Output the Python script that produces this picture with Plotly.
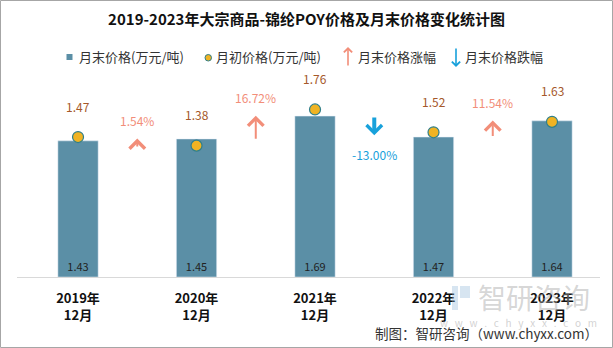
import plotly.graph_objects as go

categories = ["2019年<br>12月", "2020年<br>12月", "2021年<br>12月", "2022年<br>12月", "2023年<br>12月"]
end_price = [1.43, 1.45, 1.69, 1.47, 1.64]
start_price = [1.47, 1.38, 1.76, 1.52, 1.63]
change_pct = [None, 1.54, 16.72, -13.00, 11.54]
legend_names = ["月末价格(万元/吨)", "月初价格(万元/吨)", "月末价格涨幅", "月末价格跌幅"]

W, H = 613, 348
ML, MR, MT, MB = 17, 13, 70, 71
PW, PH = W - ML - MR, H - MT - MB

BAR = "#5B8FA6"
DOT = "#F0B323"
DOT_LINE = "#2E7F8C"
UP = "#F28E79"
DOWN = "#18A1DB"
FONT = "Noto Sans CJK SC"


def px(x):
    return (x - ML) / PW


def py(y):
    return (H - MB - y) / PH


xs = list(range(len(categories)))
fig = go.Figure()
fig.add_trace(go.Bar(
    x=xs, y=end_price, width=0.34, marker_color=BAR, name=legend_names[0],
    text=[f"{v:.2f}" for v in end_price], textposition="inside", insidetextanchor="start",
    textfont=dict(color="#222222", size=11, family=FONT),
))
fig.add_trace(go.Scatter(
    x=xs, y=start_price, mode="markers", name=legend_names[1],
    marker=dict(color=DOT, size=11, line=dict(color=DOT_LINE, width=1.2)),
))

anns = []
for i, v in enumerate(start_price):
    anns.append(dict(x=xs[i], y=v, text=f"{v:.2f}", showarrow=False, yshift=31,
                     font=dict(color="#A5582A", size=12, family=FONT)))

for i in range(1, len(categories)):
    pct = change_pct[i]
    curr = end_price[i]
    xm = (xs[i - 1] + xs[i]) / 2
    length = max(abs(pct) * 0.0155, 0.1)
    if pct >= 0:
        head = curr + 0.005
        anns.append(dict(x=xm, y=head, ax=xm, ay=head - length, xref="x", yref="y", axref="x", ayref="y",
                         showarrow=True, arrowhead=4, arrowsize=1.5, arrowwidth=2, arrowcolor=UP,
                         standoff=0, text=""))
        anns.append(dict(x=xm, y=head, text=f"{pct:.2f}%", showarrow=False, yshift=18,
                         font=dict(color=UP, size=12, family=FONT)))
    else:
        head = curr + 0.02
        anns.append(dict(x=xm, y=head, ax=xm, ay=head + length, xref="x", yref="y", axref="x", ayref="y",
                         showarrow=True, arrowhead=4, arrowsize=0.75, arrowwidth=4, arrowcolor=DOWN,
                         standoff=0, text=""))
        anns.append(dict(x=xm, y=head, text=f"{pct:.2f}%", showarrow=False, yshift=-19,
                         font=dict(color=DOWN, size=12, family=FONT)))

# custom legend
shapes = []
shapes.append(dict(type="rect", xref="paper", yref="paper", x0=px(66.5), x1=px(72.5), y0=py(60), y1=py(54),
                   fillcolor=BAR, line=dict(width=0)))
shapes.append(dict(type="circle", xref="paper", yref="paper", x0=px(205), x1=px(211.5), y0=py(61), y1=py(54.5),
                   fillcolor=DOT, line=dict(color=DOT_LINE, width=1)))
anns.append(dict(xref="paper", yref="paper", x=px(348), y=py(47), ax=0, ay=20, showarrow=True,
                 arrowhead=4, arrowsize=1.0, arrowwidth=1.6, arrowcolor=UP, standoff=0, text=""))
anns.append(dict(xref="paper", yref="paper", x=px(456), y=py(67), ax=0, ay=-20, showarrow=True,
                 arrowhead=4, arrowsize=1.0, arrowwidth=1.6, arrowcolor=DOWN, standoff=0, text=""))
for name, xl in zip(legend_names, [77, 214, 356, 463]):
    anns.append(dict(xref="paper", yref="paper", x=px(xl), y=py(57), xanchor="left", yanchor="middle",
                     text=name, showarrow=False, font=dict(size=13, color="#333333", family=FONT)))

# watermark and source
anns.append(dict(xref="paper", yref="paper", x=px(534), y=py(297), xanchor="center", yanchor="middle",
                 text="智研咨询", showarrow=False, font=dict(size=28, color="rgba(165,165,165,0.45)", family=FONT)))
anns.append(dict(xref="paper", yref="paper", x=px(518), y=py(322), xanchor="center", yanchor="middle",
                 text="w   w   w   .   c   h   y   x   x   .   c   o   m", showarrow=False,
                 font=dict(size=10, color="rgba(165,165,165,0.5)", family=FONT)))
shapes.append(dict(type="rect", xref="paper", yref="paper", x0=px(452), x1=px(458), y0=py(310), y1=py(286),
                   fillcolor="rgba(140,180,215,0.35)", line=dict(width=0)))
shapes.append(dict(type="rect", xref="paper", yref="paper", x0=px(460), x1=px(470), y0=py(298), y1=py(286),
                   fillcolor="rgba(140,180,215,0.35)", line=dict(width=0)))
anns.append(dict(xref="paper", yref="paper", x=px(600), y=py(333), xanchor="right", yanchor="middle",
                 text="制图：智研咨询（www.chyxx.com）", showarrow=False,
                 font=dict(size=13.5, color="#333333", family=FONT)))

shapes.append(dict(type="rect", xref="paper", yref="paper",
                   x0=px(0.5), x1=px(W - 0.5), y0=py(H - 0.5), y1=py(0.5),
                   line=dict(color="#A6A6A6", width=1), fillcolor="rgba(0,0,0,0)", layer="above"))

fig.update_layout(
    width=W, height=H, margin=dict(l=ML, r=MR, t=MT, b=MB),
    paper_bgcolor="white", plot_bgcolor="white",
    title=dict(text="<b>2019-2023年大宗商品-锦纶POY价格及月末价格变化统计图</b>", x=0.5, xanchor="center",
               y=1 - 20 / H, yanchor="middle", font=dict(size=15, color="#111111", family=FONT)),
    font=dict(family=FONT),
    showlegend=False,
    xaxis=dict(tickmode="array", tickvals=xs,
               ticktext=[f"<b>{c.replace('<br>', '</b><br><b>')}</b>" for c in categories],
               range=[-0.515, 4.405],
               showgrid=False, zeroline=False, showline=True, linecolor="#D9D9D9", linewidth=1,
               ticks="", tickfont=dict(size=13, color="#111111", family=FONT), ticklabelstandoff=9),
    yaxis=dict(range=[0, PH / 95.2], visible=False, showgrid=False, zeroline=False),
    annotations=anns,
    shapes=shapes,
)

fig.write_html("out.html")
